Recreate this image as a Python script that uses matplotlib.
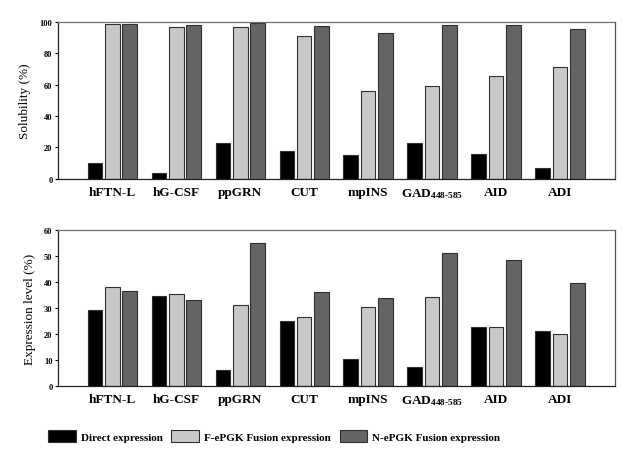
import matplotlib
matplotlib.use('Agg')
import matplotlib.pyplot as plt
import numpy as np

plt.rcParams['font.family'] = ['Liberation Serif', 'DejaVu Serif']
plt.rcParams['mathtext.fontset'] = 'custom'
plt.rcParams['mathtext.rm'] = 'Liberation Serif:bold'
plt.rcParams['mathtext.bf'] = 'Liberation Serif:bold'
plt.rcParams['mathtext.default'] = 'bf'

# 数据
proteins = ['hFTN-L', 'hG-CSF', 'ppGRN', 'CUT', 'mpINS', 'GAD$_{448\u2010585}$', 'AID', 'ADI']
series_names = ['Direct expression', 'F-ePGK Fusion expression', 'N-ePGK Fusion expression']

sol_direct = [10, 4, 23, 18, 15, 23, 16, 7]
sol_fepgk = [98.5, 97, 97, 91, 56, 59, 65.5, 71]
sol_nepgk = [98.5, 98, 99.5, 97.5, 93, 98, 98, 95.5]

exp_direct = [29.2, 34.6, 6.2, 25.1, 10.3, 7.2, 22.7, 21.0]
exp_fepgk = [38.1, 35.5, 31.2, 26.5, 30.5, 34.2, 22.6, 20.1]
exp_nepgk = [36.4, 33.2, 54.8, 36.0, 33.8, 51.0, 48.3, 39.4]

COLORS = ['#000000', '#c8c8c8', '#646464']
EDGE = '#303030'

fig = plt.figure(figsize=(6.23, 4.60), dpi=100)
ax1 = fig.add_axes([0.093, 0.609, 0.894, 0.341])
ax2 = fig.add_axes([0.093, 0.159, 0.894, 0.339])

x = np.arange(len(proteins))
offset = 0.27
width = 0.23


def draw(ax, data, ylabel, ymax, step):
    handles = []
    for k, (vals, c) in enumerate(zip(data, COLORS)):
        h = ax.bar(x + (k - 1) * offset, vals, width, color=c,
                   edgecolor=EDGE, linewidth=0.8, label=series_names[k])
        handles.append(h)
    ax.set_xlim(-0.85, 7.86)
    ax.set_ylim(0, ymax)
    ax.set_yticks(np.arange(0, ymax + 1, step))
    ax.tick_params(axis='y', labelsize=6, length=2, width=0.8, pad=2)
    for lab in ax.get_yticklabels():
        lab.set_fontweight('bold')
    ax.set_xticks(x)
    ax.set_xticklabels(proteins, fontsize=9.5, fontweight='bold')
    ax.tick_params(axis='x', length=0, pad=5)
    ax.set_ylabel(ylabel, fontsize=9.5, labelpad=6)
    for s in ax.spines.values():
        s.set_linewidth(0.9)
        s.set_color('#202020')
    ax.spines['top'].set_color('#707070')
    ax.spines['right'].set_color('#505050')
    return handles


handles = draw(ax1, [sol_direct, sol_fepgk, sol_nepgk], 'Solubility (%)', 100, 20)
draw(ax2, [exp_direct, exp_fepgk, exp_nepgk], 'Expression level (%)', 60, 10)

fig.legend(handles=handles, labels=series_names, loc='center',
           bbox_to_anchor=(0.44, 0.05), ncol=3, frameon=False,
           prop={'size': 8, 'weight': 'bold'}, handlelength=2.5,
           handleheight=1.2, columnspacing=0.8, handletextpad=0.45)

fig.savefig('out.png', dpi=100)
